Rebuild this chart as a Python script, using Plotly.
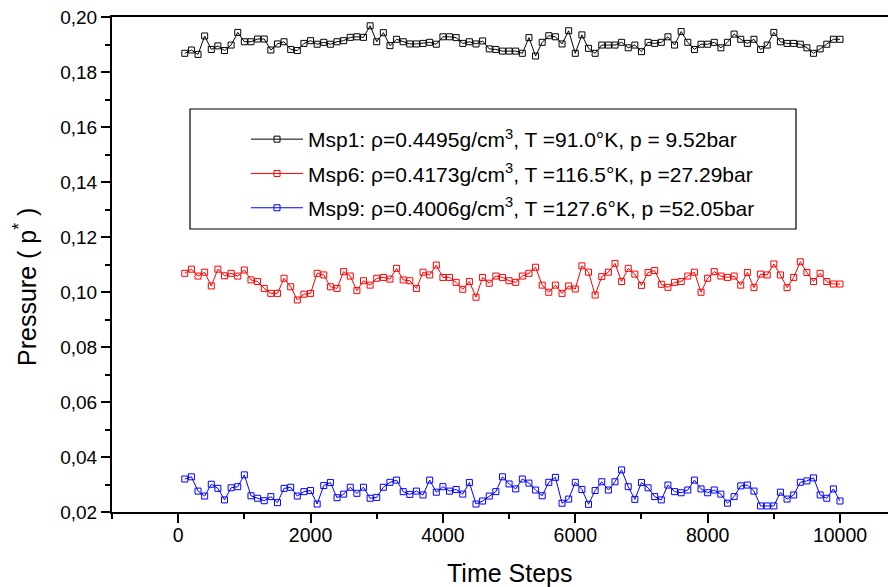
import plotly.graph_objects as go

time_steps = list(range(100, 10001, 100))

msp1 = [0.1868, 0.1880, 0.1864, 0.1931, 0.1882, 0.1895, 0.1878, 0.1898, 0.1944, 0.1910,
        0.1910, 0.1920, 0.1920, 0.1880, 0.1902, 0.1910, 0.1882, 0.1878, 0.1904, 0.1914,
        0.1901, 0.1908, 0.1901, 0.1910, 0.1914, 0.1926, 0.1928, 0.1926, 0.1968, 0.1910,
        0.1943, 0.1896, 0.1919, 0.1910, 0.1902, 0.1902, 0.1904, 0.1908, 0.1901, 0.1928,
        0.1928, 0.1925, 0.1904, 0.1910, 0.1902, 0.1913, 0.1884, 0.1882, 0.1876, 0.1876,
        0.1876, 0.1868, 0.1925, 0.1858, 0.1908, 0.1932, 0.1928, 0.1902, 0.1950, 0.1868,
        0.1935, 0.1886, 0.1868, 0.1898, 0.1898, 0.1898, 0.1908, 0.1888, 0.1898, 0.1874,
        0.1908, 0.1904, 0.1908, 0.1928, 0.1898, 0.1947, 0.1908, 0.1882, 0.1901, 0.1901,
        0.1908, 0.1888, 0.1908, 0.1938, 0.1919, 0.1904, 0.1919, 0.1882, 0.1898, 0.1944,
        0.1910, 0.1904, 0.1904, 0.1901, 0.1888, 0.1868, 0.1884, 0.1901, 0.1919, 0.1919]

msp6 = [0.1068, 0.1083, 0.1058, 0.1072, 0.1022, 0.1083, 0.1059, 0.1068, 0.1058, 0.1080,
        0.1044, 0.1038, 0.1013, 0.0995, 0.0995, 0.1050, 0.1019, 0.0971, 0.0992, 0.0995,
        0.1068, 0.1062, 0.1019, 0.1013, 0.1074, 0.1058, 0.1005, 0.1041, 0.1025, 0.1050,
        0.1053, 0.1047, 0.1086, 0.1044, 0.1041, 0.1013, 0.1072, 0.1062, 0.1098, 0.1053,
        0.1053, 0.1035, 0.1010, 0.1038, 0.0981, 0.1053, 0.1032, 0.1058, 0.1053, 0.1041,
        0.1035, 0.1058, 0.1068, 0.1090, 0.1025, 0.0999, 0.1025, 0.0995, 0.1022, 0.1011,
        0.1095, 0.1072, 0.0989, 0.1056, 0.1072, 0.1104, 0.1038, 0.1086, 0.1065, 0.1024,
        0.1071, 0.1078, 0.1028, 0.1017, 0.1035, 0.1038, 0.1058, 0.1072, 0.0999, 0.1050,
        0.1074, 0.1058, 0.1053, 0.1058, 0.1025, 0.1071, 0.1016, 0.1065, 0.1062, 0.1102,
        0.1062, 0.1016, 0.1053, 0.1110, 0.1071, 0.1038, 0.1068, 0.1038, 0.1029, 0.1029]

msp9 = [0.0320, 0.0328, 0.0276, 0.0258, 0.0301, 0.0286, 0.0244, 0.0288, 0.0292, 0.0335,
        0.0259, 0.0250, 0.0241, 0.0256, 0.0234, 0.0286, 0.0290, 0.0258, 0.0274, 0.0278,
        0.0229, 0.0296, 0.0307, 0.0252, 0.0265, 0.0290, 0.0268, 0.0290, 0.0250, 0.0253,
        0.0290, 0.0308, 0.0316, 0.0274, 0.0264, 0.0276, 0.0262, 0.0316, 0.0272, 0.0292,
        0.0276, 0.0282, 0.0265, 0.0307, 0.0229, 0.0240, 0.0258, 0.0274, 0.0328, 0.0302,
        0.0284, 0.0320, 0.0305, 0.0280, 0.0259, 0.0308, 0.0326, 0.0232, 0.0247, 0.0308,
        0.0282, 0.0228, 0.0278, 0.0310, 0.0280, 0.0310, 0.0353, 0.0292, 0.0246, 0.0307,
        0.0288, 0.0256, 0.0244, 0.0298, 0.0274, 0.0270, 0.0280, 0.0316, 0.0284, 0.0270,
        0.0280, 0.0265, 0.0232, 0.0256, 0.0295, 0.0298, 0.0276, 0.0222, 0.0222, 0.0222,
        0.0272, 0.0247, 0.0262, 0.0308, 0.0313, 0.0324, 0.0262, 0.0250, 0.0284, 0.0240]

series_names = [
    "Msp1: ρ=0.4495g/cm<sup>3</sup>, T =91.0°K, p = 9.52bar",
    "Msp6: ρ=0.4173g/cm<sup>3</sup>, T =116.5°K, p =27.29bar",
    "Msp9: ρ=0.4006g/cm<sup>3</sup>, T =127.6°K, p =52.05bar",
]
series_values = [msp1, msp6, msp9]
series_colors = ["#000000", "#ff0000", "#0000ff"]

x_tick_vals = [0, 2000, 4000, 6000, 8000, 10000]
x_tick_text = ["0", "2000", "4000", "6000", "8000", "10000"]
y_tick_vals = [0.02, 0.04, 0.06, 0.08, 0.10, 0.12, 0.14, 0.16, 0.18, 0.20]

FONT = "Liberation Sans, Arial, sans-serif"

fig = go.Figure()
for i, (name, vals, col) in enumerate(zip(series_names, series_values, series_colors)):
    fig.add_trace(go.Scatter(
        x=time_steps, y=vals, name=name, mode="lines+markers",
        legendgroup=f"g{i}",
        line=dict(color=col, width=1),
        marker=dict(symbol="square-open", size=6, color=col, line=dict(width=1, color=col)),
    ))

# The page body has an 8px default margin; the figure is offset by it.
OFF = 8
W, H = 896 - OFF, 587 - OFF
L, R, T, B = 112 - OFF, 0, 17 - OFF, H - (512 - OFF)
pw = W - L - R
ph = H - T - B

def px_x(page_x):
    return (page_x - OFF - L) / pw

def px_y(page_y):
    return (H - B - (page_y - OFF)) / ph

fig.add_shape(type="rect", xref="paper", yref="paper",
              x0=px_x(190), x1=px_x(796), y0=px_y(229), y1=px_y(109),
              line=dict(color="#000000", width=1.2), fillcolor="rgba(0,0,0,0)")

fig.add_annotation(text="Time Steps", xref="paper", yref="paper",
                   x=px_x(510), y=px_y(573), xanchor="center", yanchor="middle",
                   showarrow=False, font=dict(family=FONT, size=25, color="#000000"))
fig.add_annotation(text="Pressure ( p<sup>*</sup> )", xref="paper", yref="paper",
                   x=px_x(25), y=px_y(287), xanchor="center", yanchor="middle",
                   textangle=-90, showarrow=False,
                   font=dict(family=FONT, size=25, color="#000000"))

fig.update_layout(
    width=W, height=H,
    margin=dict(l=L, r=R, t=T, b=B, pad=0, autoexpand=False),
    paper_bgcolor="white", plot_bgcolor="white",
    separators=",.",
    font=dict(family=FONT, color="#000000"),
    showlegend=True,
    legend=dict(
        x=px_x(246), y=px_y(119), xanchor="left", yanchor="top",
        bgcolor="rgba(0,0,0,0)", borderwidth=0,
        font=dict(family=FONT, size=21, color="#000000"),
        traceorder="grouped", tracegroupgap=4,
        itemwidth=52,
    ),
    xaxis=dict(
        range=[-1000, 10846], automargin=False,
        tickmode="array", tickvals=x_tick_vals, ticktext=x_tick_text,
        ticks="outside", ticklen=9, tickwidth=2, tickcolor="#000000",
        minor=dict(dtick=1000, tick0=0, ticks="outside", ticklen=5, tickwidth=1.5, tickcolor="#000000"),
        showline=True, linecolor="#000000", linewidth=2, mirror=True,
        showgrid=False, zeroline=False,
        ticklabeloverflow="allow", ticklabelstandoff=-4,
        tickfont=dict(family=FONT, size=19.5),
    ),
    yaxis=dict(
        range=[0.02, 0.20], automargin=False,
        tickmode="array", tickvals=y_tick_vals,
        tickformat=".2f",
        ticks="outside", ticklen=9, tickwidth=2, tickcolor="#000000",
        minor=dict(dtick=0.01, tick0=0.0, ticks="outside", ticklen=5, tickwidth=1.5, tickcolor="#000000"),
        showline=True, linecolor="#000000", linewidth=2, mirror=False,
        showgrid=False, zeroline=False,
        ticklabeloverflow="allow",
        tickfont=dict(family=FONT, size=19),
    ),
)

fig.write_html("out.html")
